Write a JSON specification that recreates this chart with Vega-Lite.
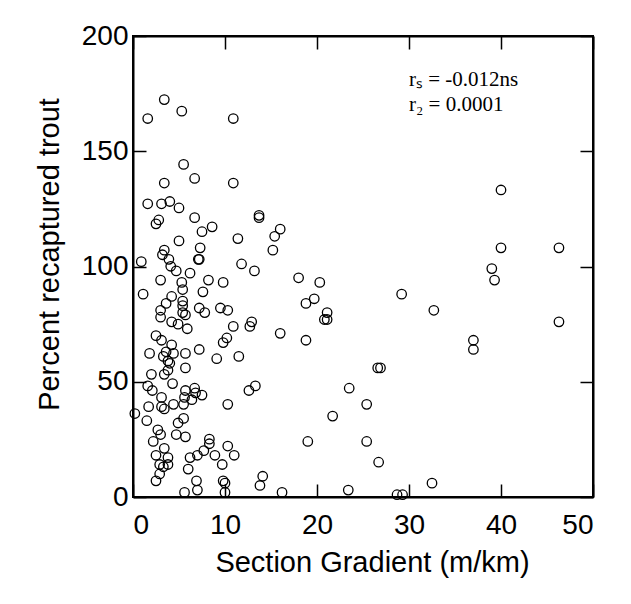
{
  "$schema": "https://vega.github.io/schema/vega-lite/v6.json",
  "width": 460,
  "height": 461,
  "autosize": {"type": "none"},
  "padding": {"left": 133, "top": 36, "right": 38, "bottom": 107},
  "background": "white",
  "config": {
    "font": "Liberation Sans",
    "view": {"stroke": "black", "strokeWidth": 2},
    "axis": {
      "grid": false,
      "domainColor": "black",
      "domainWidth": 2,
      "tickColor": "black",
      "tickWidth": 1.5,
      "tickSize": -13,
      "labelColor": "black",
      "labelFont": "Liberation Sans",
      "labelFontSize": 28,
      "titleColor": "black",
      "titleFont": "Liberation Sans",
      "titleFontSize": 29,
      "titleFontWeight": "normal"
    }
  },
  "datasets": {
    "points": [
      {"gradient": 3.4, "recaptured": 172.4}, {"gradient": 5.3, "recaptured": 167.4}, {"gradient": 1.6, "recaptured": 164.2}, {"gradient": 10.9, "recaptured": 164.2},
      {"gradient": 5.5, "recaptured": 144.3}, {"gradient": 6.7, "recaptured": 138.2}, {"gradient": 3.4, "recaptured": 136.2}, {"gradient": 10.9, "recaptured": 136.2},
      {"gradient": 40.0, "recaptured": 133.2}, {"gradient": 1.6, "recaptured": 127.2}, {"gradient": 3.1, "recaptured": 127.2}, {"gradient": 4.0, "recaptured": 128.2},
      {"gradient": 5.0, "recaptured": 125.4}, {"gradient": 13.7, "recaptured": 122.2}, {"gradient": 13.7, "recaptured": 121.2}, {"gradient": 6.7, "recaptured": 121.2},
      {"gradient": 2.8, "recaptured": 120.2}, {"gradient": 2.5, "recaptured": 118.5}, {"gradient": 8.6, "recaptured": 117.2}, {"gradient": 16.0, "recaptured": 116.2},
      {"gradient": 7.5, "recaptured": 115.1}, {"gradient": 15.4, "recaptured": 113.1}, {"gradient": 11.4, "recaptured": 112.1}, {"gradient": 5.0, "recaptured": 111.1},
      {"gradient": 7.3, "recaptured": 108.1}, {"gradient": 3.4, "recaptured": 107.1}, {"gradient": 15.2, "recaptured": 107.1}, {"gradient": 40.0, "recaptured": 108.1},
      {"gradient": 46.3, "recaptured": 108.1}, {"gradient": 3.2, "recaptured": 105.1}, {"gradient": 7.1, "recaptured": 103.1}, {"gradient": 7.2, "recaptured": 103.1},
      {"gradient": 3.9, "recaptured": 103.1}, {"gradient": 0.9, "recaptured": 102.1}, {"gradient": 11.8, "recaptured": 101.1}, {"gradient": 4.1, "recaptured": 100.1},
      {"gradient": 4.7, "recaptured": 98.1}, {"gradient": 13.2, "recaptured": 98.1}, {"gradient": 6.2, "recaptured": 97.1}, {"gradient": 39.0, "recaptured": 99.1},
      {"gradient": 39.3, "recaptured": 94.1}, {"gradient": 18.0, "recaptured": 95.1}, {"gradient": 3.0, "recaptured": 94.1}, {"gradient": 8.2, "recaptured": 94.1},
      {"gradient": 9.8, "recaptured": 93.1}, {"gradient": 20.3, "recaptured": 93.1}, {"gradient": 5.3, "recaptured": 93.1}, {"gradient": 5.4, "recaptured": 90.0},
      {"gradient": 1.1, "recaptured": 88.0}, {"gradient": 7.6, "recaptured": 89.0}, {"gradient": 29.2, "recaptured": 88.0}, {"gradient": 4.2, "recaptured": 87.0},
      {"gradient": 19.7, "recaptured": 86.0}, {"gradient": 5.4, "recaptured": 85.0}, {"gradient": 3.6, "recaptured": 84.0}, {"gradient": 18.8, "recaptured": 84.0},
      {"gradient": 5.4, "recaptured": 83.0}, {"gradient": 7.2, "recaptured": 82.0}, {"gradient": 9.5, "recaptured": 82.0}, {"gradient": 3.0, "recaptured": 81.0},
      {"gradient": 10.3, "recaptured": 81.0}, {"gradient": 32.7, "recaptured": 81.0}, {"gradient": 5.4, "recaptured": 80.0}, {"gradient": 7.8, "recaptured": 80.0},
      {"gradient": 21.1, "recaptured": 80.0}, {"gradient": 5.7, "recaptured": 79.0}, {"gradient": 3.0, "recaptured": 78.0}, {"gradient": 20.8, "recaptured": 77.0},
      {"gradient": 21.1, "recaptured": 77.0}, {"gradient": 4.2, "recaptured": 76.0}, {"gradient": 12.9, "recaptured": 76.0}, {"gradient": 46.3, "recaptured": 76.0},
      {"gradient": 4.9, "recaptured": 75.0}, {"gradient": 10.9, "recaptured": 74.0}, {"gradient": 12.7, "recaptured": 74.0}, {"gradient": 5.9, "recaptured": 73.0},
      {"gradient": 16.0, "recaptured": 71.0}, {"gradient": 2.5, "recaptured": 70.0}, {"gradient": 10.2, "recaptured": 69.0}, {"gradient": 37.0, "recaptured": 68.0},
      {"gradient": 3.1, "recaptured": 68.0}, {"gradient": 18.8, "recaptured": 68.0}, {"gradient": 9.8, "recaptured": 67.0}, {"gradient": 4.2, "recaptured": 66.0},
      {"gradient": 37.0, "recaptured": 64.0}, {"gradient": 7.2, "recaptured": 64.0}, {"gradient": 3.6, "recaptured": 63.0}, {"gradient": 1.8, "recaptured": 62.3},
      {"gradient": 4.4, "recaptured": 62.3}, {"gradient": 5.7, "recaptured": 62.3}, {"gradient": 11.5, "recaptured": 61.0}, {"gradient": 3.3, "recaptured": 61.0},
      {"gradient": 3.8, "recaptured": 59.0}, {"gradient": 9.1, "recaptured": 60.0}, {"gradient": 4.0, "recaptured": 58.0}, {"gradient": 26.6, "recaptured": 56.0},
      {"gradient": 26.9, "recaptured": 56.0}, {"gradient": 5.7, "recaptured": 56.0}, {"gradient": 3.8, "recaptured": 55.0}, {"gradient": 2.0, "recaptured": 53.2},
      {"gradient": 3.4, "recaptured": 53.2}, {"gradient": 4.3, "recaptured": 49.2}, {"gradient": 1.6, "recaptured": 48.2}, {"gradient": 13.3, "recaptured": 48.2},
      {"gradient": 23.5, "recaptured": 47.2}, {"gradient": 6.7, "recaptured": 47.2}, {"gradient": 2.1, "recaptured": 46.2}, {"gradient": 5.7, "recaptured": 46.2},
      {"gradient": 12.6, "recaptured": 46.2}, {"gradient": 6.8, "recaptured": 45.2}, {"gradient": 7.5, "recaptured": 44.2}, {"gradient": 5.6, "recaptured": 43.2},
      {"gradient": 3.1, "recaptured": 43.2}, {"gradient": 6.4, "recaptured": 42.2}, {"gradient": 4.4, "recaptured": 40.2}, {"gradient": 5.5, "recaptured": 40.2},
      {"gradient": 10.3, "recaptured": 40.2}, {"gradient": 25.4, "recaptured": 40.2}, {"gradient": 1.7, "recaptured": 39.2}, {"gradient": 3.1, "recaptured": 39.2},
      {"gradient": 3.4, "recaptured": 38.2}, {"gradient": 0.2, "recaptured": 36.2}, {"gradient": 21.7, "recaptured": 35.1}, {"gradient": 5.5, "recaptured": 34.1},
      {"gradient": 1.5, "recaptured": 33.1}, {"gradient": 4.9, "recaptured": 32.1}, {"gradient": 2.7, "recaptured": 29.1}, {"gradient": 3.0, "recaptured": 27.1},
      {"gradient": 4.7, "recaptured": 27.1}, {"gradient": 5.7, "recaptured": 26.1}, {"gradient": 8.3, "recaptured": 25.1}, {"gradient": 2.2, "recaptured": 24.1},
      {"gradient": 19.0, "recaptured": 24.1}, {"gradient": 25.4, "recaptured": 24.1}, {"gradient": 8.3, "recaptured": 23.1}, {"gradient": 10.3, "recaptured": 22.1},
      {"gradient": 3.4, "recaptured": 21.1}, {"gradient": 7.7, "recaptured": 20.1}, {"gradient": 2.5, "recaptured": 18.1}, {"gradient": 11.0, "recaptured": 18.1},
      {"gradient": 7.0, "recaptured": 18.1}, {"gradient": 8.9, "recaptured": 18.1}, {"gradient": 6.2, "recaptured": 17.1}, {"gradient": 3.8, "recaptured": 17.1},
      {"gradient": 26.7, "recaptured": 15.1}, {"gradient": 2.9, "recaptured": 14.1}, {"gradient": 3.8, "recaptured": 14.1}, {"gradient": 9.7, "recaptured": 14.1},
      {"gradient": 3.3, "recaptured": 13.1}, {"gradient": 6.0, "recaptured": 12.1}, {"gradient": 2.9, "recaptured": 10.0}, {"gradient": 14.1, "recaptured": 9.0},
      {"gradient": 2.5, "recaptured": 7.0}, {"gradient": 6.9, "recaptured": 7.0}, {"gradient": 9.8, "recaptured": 7.0}, {"gradient": 32.5, "recaptured": 6.0},
      {"gradient": 10.0, "recaptured": 6.0}, {"gradient": 13.8, "recaptured": 5.0}, {"gradient": 7.0, "recaptured": 3.0}, {"gradient": 23.4, "recaptured": 3.0},
      {"gradient": 5.6, "recaptured": 2.0}, {"gradient": 10.0, "recaptured": 2.0}, {"gradient": 16.2, "recaptured": 2.0}, {"gradient": 28.7, "recaptured": 1.0},
      {"gradient": 29.3, "recaptured": 1.0}
    ],
    "notes": [
      {"label": "rₛ = -0.012ns", "nx": 30.0, "ny": 178.3},
      {"label": "r₂ = 0.0001", "nx": 30.0, "ny": 167.4}
    ]
  },
  "layer": [
    {
      "data": {"name": "points"},
      "mark": {"type": "point", "shape": "circle", "filled": false, "color": "black", "size": 90, "strokeWidth": 1.3, "opacity": 1},
      "encoding": {
        "x": {
          "field": "gradient", "type": "quantitative",
          "scale": {"domain": [0, 50], "nice": false, "zero": false},
          "axis": {"orient": "bottom", "values": [0, 10, 20, 30, 40, 50], "labelPadding": 27, "title": "Section Gradient (m/km)", "titleBaseline": "alphabetic", "titleY": 74, "titleX": 239}
        },
        "y": {
          "field": "recaptured", "type": "quantitative",
          "scale": {"domain": [0, 200], "nice": false, "zero": false},
          "axis": {"orient": "left", "values": [0, 50, 100, 150, 200], "labelPadding": 18, "labelDy": 4, "title": "Percent recaptured trout", "titleBaseline": "alphabetic", "titleX": -75, "titleY": 218, "titleAngle": 270}
        }
      }
    },
    {
      "data": {"name": "notes"},
      "mark": {"type": "text", "align": "left", "baseline": "alphabetic", "font": "Liberation Serif", "fontSize": 21, "color": "black"},
      "encoding": {
        "text": {"field": "label"},
        "x": {
          "field": "nx", "type": "quantitative",
          "axis": {"orient": "top", "values": [0, 10, 20, 30, 40, 50], "labels": false, "title": null}
        },
        "y": {
          "field": "ny", "type": "quantitative",
          "axis": {"orient": "right", "values": [0, 50, 100, 150, 200], "labels": false, "title": null}
        }
      }
    }
  ],
  "resolve": {"axis": {"x": "independent", "y": "independent"}}
}
